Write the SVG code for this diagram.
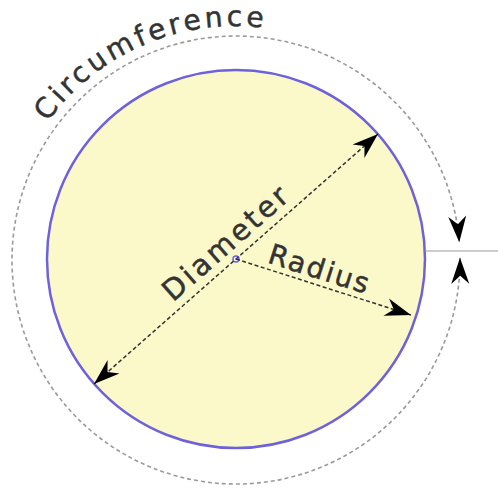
<svg xmlns="http://www.w3.org/2000/svg" width="498" height="488" viewBox="0 0 498 488">
<style>
.lbl{font-family:"DejaVu Sans","Liberation Sans",sans-serif;fill:#333;stroke:#333;stroke-width:0.5;}
.dash{fill:none;stroke:#333;stroke-width:1.5;stroke-dasharray:4 2.5;}
.outer{fill:none;stroke:#9a9a9a;stroke-width:1.6;stroke-dasharray:4 3;}
</style>
<defs>
<marker id="ah" viewBox="-28 -11 30 22" refX="0" refY="0" markerWidth="30" markerHeight="22" orient="auto-start-reverse" markerUnits="userSpaceOnUse">
<path d="M0,0 L-26,-9 L-18,0 L-26,9 Z" fill="#000"/>
</marker>
<path id="circPath" d="M47.5,122 A233,233 0 0 1 414.5,109.2"/>
</defs>
<rect width="498" height="488" fill="#fff"/>
<g id="circle">
<circle cx="236" cy="259" r="189" fill="#fbf8ca" stroke="#6e62dc" stroke-width="2.5"/>
</g>
<g id="center">
<circle cx="236" cy="259" r="3" fill="#fff" stroke="#6e62dc" stroke-width="1.5"/>
</g>
<g id="connectors">
<path class="outer" d="M460,257.8 A224,224 0 1 1 459.3,242.2" marker-start="url(#ah)" marker-end="url(#ah)"/>
<line x1="425" y1="251" x2="498" y2="251" stroke="#9a9a9a" stroke-width="1.2"/>
<line class="dash" x1="94" y1="384" x2="378" y2="134" marker-start="url(#ah)" marker-end="url(#ah)"/>
<line class="dash" x1="236" y1="259" x2="411" y2="315" marker-end="url(#ah)"/>
</g>
<g id="circumference-label">
<text class="lbl" font-size="28" letter-spacing="3.5" fill="#222"><textPath href="#circPath">Circumference</textPath></text>
</g>
<g id="diameter-label">
<text class="lbl" font-size="29" letter-spacing="3" transform="translate(236,259) rotate(-41.3)" x="-76" y="-9">Diameter</text>
</g>
<g id="radius-label">
<text class="lbl" font-size="28" letter-spacing="2" transform="translate(236,259) rotate(17.6)" x="30" y="-6">Radius</text>
</g>
</svg>
